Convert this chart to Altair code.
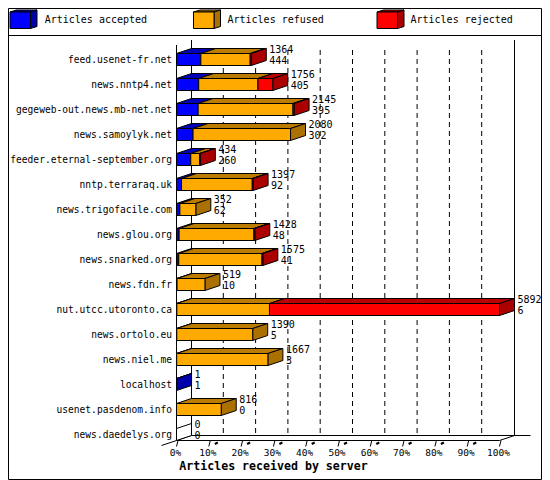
import altair as alt
import pandas as pd

servers = ["feed.usenet-fr.net", "news.nntp4.net", "gegeweb-out.news.mb-net.net",
           "news.samoylyk.net", "feeder.eternal-september.org", "nntp.terraraq.uk",
           "news.trigofacile.com", "news.glou.org", "news.snarked.org", "news.fdn.fr",
           "nut.utcc.utoronto.ca", "news.ortolo.eu", "news.niel.me", "localhost",
           "usenet.pasdenom.info", "news.daedelys.org"]
received = [1364, 1756, 2145, 2080, 434, 1397, 352, 1428, 1575, 519, 5892, 1390, 1667, 1, 816, 0]
accepted = [444, 405, 395, 302, 260, 92, 62, 48, 41, 10, 6, 5, 3, 1, 0, 0]
rejected = [20, 270, 20, 0, 10, 15, 0, 15, 15, 0, 4196, 0, 0, 0, 0, 0]
legend_names = ["Articles accepted", "Articles refused", "Articles rejected"]
front_colors = ["#0000ff", "#ffaa00", "#ff0000"]
top_colors = ["#0000bb", "#bb7c00", "#bb0000"]
side_colors = ["#0000aa", "#aa7100", "#aa0000"]
percent_ticks = list(range(0, 101, 10))

W, H = 533, 471
X0, X1 = 168.5, 491.5      # 0% and 100% on the front plane, in chart pixels
Y0, ROW = 51.5, 25.0       # centre of first row, row pitch
MAX = 5892.0
UPP = MAX / (X1 - X0)      # articles per pixel
DX = 15 * UPP              # depth of the 3-D extrusion, articles
DY = 5 / ROW               # depth of the 3-D extrusion, rows
HALF = 6 / ROW             # half bar height, rows


def ux(px):
    return (px - X0) * UPP


def uy(px):
    return (px - Y0) / ROW


x_scale = alt.Scale(domain=[0, MAX], range=[X0, X1], nice=False, zero=False)
y_scale = alt.Scale(domain=[0, 15], range=[Y0, Y0 + 15 * ROW], nice=False, zero=False)
X = lambda f: alt.X(f, type="quantitative", scale=x_scale, axis=None, title=None, stack=None)
Y = lambda f: alt.Y(f, type="quantitative", scale=y_scale, axis=None, title=None, stack=None)

fronts, tops, sides = [], [], []


def add_box(face, a, b, yc, half, dx, dy, ci):
    fronts.append(dict(a=a, b=b, t=yc - half, u=yc + half, fill=front_colors[ci]))
    tops.append(dict(face=face, y=yc - half, a=a, b=b, fill=top_colors[ci]))
    tops.append(dict(face=face, y=yc - half - dy, a=a + dx, b=b + dx, fill=top_colors[ci]))


def add_side(face, x, yc_top, yc_bot, dx, dy, fill):
    sides.append(dict(face=face, x=x, t=yc_top, u=yc_bot, fill=fill))
    sides.append(dict(face=face, x=x + dx, t=yc_top - dy, u=yc_bot - dy, fill=fill))


for i, (tot, acc, rej) in enumerate(zip(received, accepted, rejected)):
    ref = tot - acc - rej
    edges = [0, acc, acc + ref, tot]
    for c in range(3):
        if edges[c + 1] > edges[c]:
            add_box(f"r{i}s{c}", edges[c], edges[c + 1], i, HALF, DX, DY, c)
    last = [c for c, v in enumerate((acc, ref, rej)) if v > 0]
    fill = side_colors[last[-1]] if last else "#ffffff"
    add_side(f"r{i}", tot, i - HALF, i + HALF, DX, DY, fill)

# legend swatches
leg_x = [10, 193.5, 377]
leg_text_x = [36.7, 219.5, 402.5]
for c, lx in enumerate(leg_x):
    a, b = ux(lx - 8), ux(lx + 20.5 - 8)
    t, u = uy(12 - 8), uy(28.5 - 8)
    yc, half = (t + u) / 2, (u - t) / 2
    ddx, ddy = ux(6.5) - ux(0), 2 / ROW
    add_box(f"leg{c}", a, b, yc, half, ddx, ddy, c)
    add_side(f"leg{c}", b, t, u, ddx, ddy, side_colors[c])

front_df, top_df, side_df = pd.DataFrame(fronts), pd.DataFrame(tops), pd.DataFrame(sides)

rows = pd.DataFrame(dict(row=range(16), name=servers, total=received, acc=accepted,
                         top=[r - 9.3 / ROW for r in range(16)],
                         bot=[r + 1.7 / ROW for r in range(16)]))

# floor and wall lines
y_floor_front, y_floor_back = uy(440.5 - 8), uy(435.5 - 8)
y_top_back, y_top_front = uy(40 - 8), uy(45 - 8)
lines = pd.DataFrame([
    dict(x=0, x2=0, y=y_top_front, y2=y_floor_front),                       # front axis
    dict(x=DX, x2=DX, y=y_top_back, y2=y_floor_back),                       # left wall
    dict(x=MAX + DX, x2=MAX + DX, y=y_top_back, y2=y_floor_back),           # right wall
    dict(x=0, x2=MAX, y=y_floor_front, y2=y_floor_front),                   # floor front
    dict(x=DX, x2=MAX + 31 * UPP, y=y_floor_back, y2=y_floor_back),         # floor back
    dict(x=MAX, x2=MAX + DX, y=y_floor_front, y2=y_floor_back),             # floor right
    dict(x=-15 * UPP, x2=DX, y=y_floor_front + DY, y2=y_floor_back),        # floor left
])
ticks = pd.DataFrame([dict(x=p / 100 * MAX, x2=p / 100 * MAX + 1.5 * UPP,
                           y=y_floor_front + 6 / ROW, y2=y_floor_front) for p in percent_ticks])
blobs = pd.DataFrame([dict(x=p / 100 * MAX + 6 * UPP, x2=p / 100 * MAX + 9 * UPP,
                           y=y_floor_front + 3.5 / ROW, y2=y_floor_front + 2 / ROW)
                      for p in percent_ticks[1:-1]])
grid = pd.DataFrame([dict(x=p / 100 * MAX + DX - 0.5 * UPP, y=uy(50 - 8), y2=y_floor_back)
                     for p in percent_ticks[1:-1]])
tick_labels = pd.DataFrame([dict(x=p / 100 * MAX, label=f"{p}%") for p in percent_ticks])
legend_df = pd.DataFrame(dict(name=legend_names, px=leg_text_x))
title_df = pd.DataFrame(dict(name=["Articles received by server"]))
sep_df = pd.DataFrame(dict(y=[35]))

MONO = "DejaVu Sans Mono"

layers = [
    alt.Chart(sep_df).mark_rule(color="black", strokeWidth=1).encode(
        x=alt.value(0), x2=alt.value(W), y=alt.value(27.5)),
    alt.Chart(grid).mark_rule(color="black", strokeWidth=1, strokeDash=[5, 4]).encode(
        x=X("x"), y=Y("y"), y2="y2"),
    alt.Chart(lines).mark_rule(color="black", strokeWidth=1).encode(
        x=X("x"), x2="x2", y=Y("y"), y2="y2"),
    alt.Chart(ticks).mark_rule(color="black", strokeWidth=1).encode(
        x=X("x"), x2="x2", y=Y("y"), y2="y2"),
    alt.Chart(blobs).mark_rule(color="black", strokeWidth=2).encode(
        x=X("x"), x2="x2", y=Y("y"), y2="y2"),
    alt.Chart(top_df).mark_area(orient="horizontal", stroke="black", strokeWidth=1, opacity=1).encode(
        y=Y("y"), x=X("a"), x2="b", fill=alt.Fill("fill:N", scale=None), detail="face:N"),
    alt.Chart(side_df).mark_area(orient="vertical", stroke="black", strokeWidth=1, opacity=1).encode(
        x=X("x"), y=Y("t"), y2="u", fill=alt.Fill("fill:N", scale=None), detail="face:N"),
    alt.Chart(front_df).mark_rect(stroke="black", strokeWidth=1).encode(
        x=X("a"), x2="b", y=Y("t"), y2="u", fill=alt.Fill("fill:N", scale=None)),
    alt.Chart(rows).mark_text(align="right", baseline="middle", font=MONO, fontSize=9.6, color="black").encode(
        x=alt.value(164), y=Y("row"), text="name:N"),
    alt.Chart(rows).mark_text(align="left", baseline="middle", font=MONO, fontSize=10, color="black", dx=18).encode(
        x=X("total"), y=Y("top"), text="total:Q"),
    alt.Chart(rows).mark_text(align="left", baseline="middle", font=MONO, fontSize=10, color="black", dx=18).encode(
        x=X("total"), y=Y("bot"), text="acc:Q"),
    alt.Chart(tick_labels).mark_text(align="center", baseline="middle", font=MONO, fontSize=9.5, color="black", dx=-1).encode(
        x=X("x"), y=alt.value(444.7), text="label:N"),
    alt.Chart(legend_df).mark_text(align="left", baseline="middle", font=MONO, fontSize=10, color="black").encode(
        x=alt.X("px:Q", scale=None, axis=None), y=alt.value(12), text="name:N"),
    alt.Chart(title_df).mark_text(align="center", baseline="middle", font=MONO, fontSize=11.6,
                                  fontWeight="bold", color="black").encode(
        x=alt.value(265.5), y=alt.value(458.7), text="name:N"),
]

chart = alt.layer(*layers).properties(
    width=W, height=H, background="white",
    padding={"left": 0, "top": 0, "right": 1, "bottom": 1},
    autosize=alt.AutoSizeParams(type="none"),
).configure_view(stroke="black", strokeWidth=1)

chart.save("out.html", embed_options={"renderer": "svg", "actions": False})
